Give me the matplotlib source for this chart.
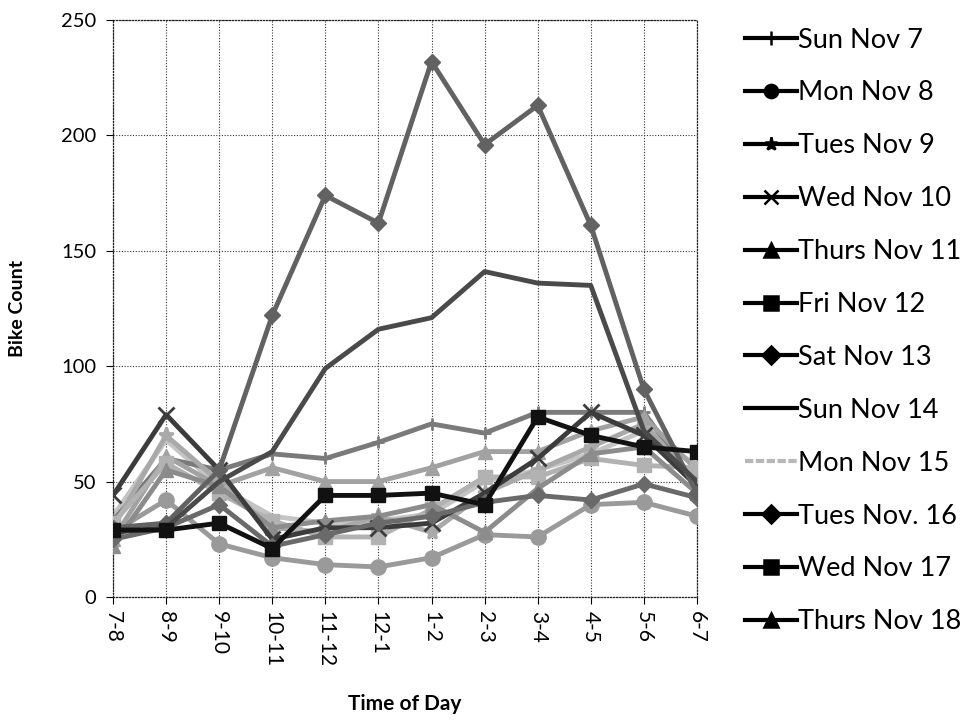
import matplotlib
matplotlib.use("Agg")
import matplotlib.pyplot as plt
from matplotlib.lines import Line2D

plt.rcParams['font.family'] = ['Lato', 'DejaVu Sans']

categories = ['7-8', '8-9', '9-10', '10-11', '11-12', '12-1', '1-2', '2-3', '3-4', '4-5', '5-6', '6-7']

series_names = ['Sun Nov 7', 'Mon Nov 8', 'Tues Nov 9', 'Wed Nov 10', 'Thurs Nov 11', 'Fri Nov 12',
                'Sat Nov 13', 'Sun Nov 14', 'Mon Nov 15', 'Tues Nov. 16', 'Wed Nov 17', 'Thurs Nov 18']

sun_nov7 = [33, 60, 55, 62, 60, 67, 75, 71, 80, 80, 80, 48]
mon_nov8 = [28, 42, 23, 17, 14, 13, 17, 27, 26, 40, 41, 35]
tue_nov9 = [30, 70, 50, 30, 28, 35, 28, 45, 55, 65, 75, 50]
wed_nov10 = [44, 79, 55, 25, 30, 30, 32, 45, 60, 80, 70, 48]
thu_nov11 = [25, 61, 48, 56, 50, 50, 56, 63, 63, 72, 78, 55]
fri_nov12 = [29, 29, 32, 21, 44, 44, 45, 40, 78, 70, 65, 63]
sat_nov13 = [30, 32, 55, 122, 174, 162, 232, 196, 213, 161, 90, 45]
sun_nov14 = [28, 30, 50, 63, 99, 116, 121, 141, 136, 135, 72, 50]
mon_nov15 = [35, 68, 48, 35, 32, 33, 36, 50, 55, 62, 72, 57]
tue_nov16 = [25, 30, 40, 22, 27, 32, 35, 41, 44, 42, 49, 43]
wed_nov17 = [32, 58, 45, 33, 26, 26, 38, 52, 52, 60, 57, 56]
thu_nov18 = [22, 55, 48, 30, 33, 35, 40, 28, 47, 62, 65, 45]

series_values = [sun_nov7, mon_nov8, tue_nov9, wed_nov10, thu_nov11, fri_nov12,
                 sat_nov13, sun_nov14, mon_nov15, tue_nov16, wed_nov17, thu_nov18]

y_ticks = [0, 50, 100, 150, 200, 250]

# styles
colors = ['#7a7a7a', '#9a9a9a', '#a9a9a9', '#3c3c3c', '#a2a2a2', '#111111',
          '#626262', '#4a4a4a', '#c4c4c4', '#6a6a6a', '#b2b2b2', '#8c8c8c']
markers = ['+', 'o', '*', 'x', '^', 's', 'D', None, None, 'D', 's', '^']
msizes = [9, 11, 11, 12, 10, 10, 8, 0, 0, 8, 10, 10]
zorders = [3, 3, 3, 4, 3, 6, 5, 5, 2, 4, 3, 3]

fig = plt.figure(figsize=(9.7, 7.25), dpi=100)
ax = fig.add_axes([0.1165, 0.1766, 0.602, 0.7958])

x = list(range(len(categories)))
for vals, c, m, ms, z in zip(series_values, colors, markers, msizes, zorders):
    ax.plot(x, vals, color=c, lw=3.5, marker=m, markersize=ms,
            markeredgewidth=2 if m in ('+', 'x', '*') else 1, markeredgecolor=c,
            markerfacecolor=c, zorder=z, solid_joinstyle='round')

ax.set_xlim(0, len(categories) - 1)
ax.set_ylim(0, 250)
ax.set_yticks(y_ticks)
ax.set_xticks(x)
ax.set_xticklabels(categories, rotation=270, fontsize=15)
ax.tick_params(axis='y', labelsize=14.5, length=5, pad=7)
ax.tick_params(axis='x', length=5, pad=5)

ax.grid(True, color='#333333', linestyle=(0, (1, 1.5)), linewidth=0.8, zorder=0)
ax.set_axisbelow(True)
for s in ax.spines.values():
    s.set_linestyle((0, (1, 1.5)))
    s.set_linewidth(0.9)
    s.set_color('#222222')

ax.set_ylabel('Bike Count', fontsize=14, fontweight='bold')
ax.set_xlabel('Time of Day', fontsize=15, fontweight='bold')
ax.yaxis.set_label_coords(-0.149, 0.5)
ax.xaxis.set_label_coords(0.5, -0.168)

handles = []
for m in markers:
    handles.append(Line2D([0], [0], color='black', lw=3.0, marker=m, markersize=9.5,
                          markeredgewidth=1.8, markerfacecolor='black', markeredgecolor='black'))
handles[8] = Line2D([0], [0], color='#b8b8b8', lw=3.0, linestyle=(0, (2, 0.6)))

leg = fig.legend(handles, series_names, loc='upper left', bbox_to_anchor=(0.757, 0.977),
                 frameon=False, fontsize=19.5, handlelength=1.9, handletextpad=0.05,
                 labelspacing=1.03, borderaxespad=0)

fig.savefig('out.png', dpi=100)
